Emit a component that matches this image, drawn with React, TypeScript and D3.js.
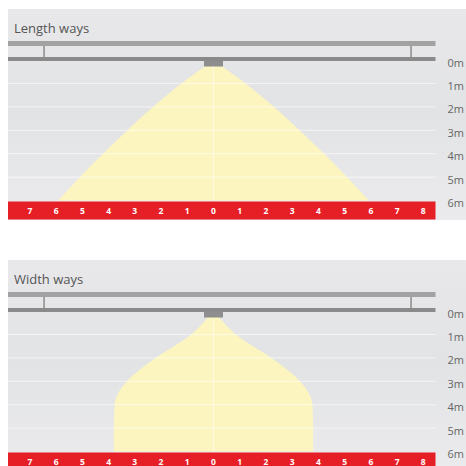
import React from "react";
import * as d3 from "d3";

// ---- data ----
const groundTicks = [-7, -6, -5, -4, -3, -2, -1, 0, 1, 2, 3, 4, 5, 6, 7, 8];
const depthTicks = [0, 1, 2, 3, 4, 5, 6];
const panelTitles = ["Length ways", "Width ways"];

// beam half-width (m) at a given depth below the luminaire (m)
const lengthDepth = [0.26, 1, 2, 3, 4, 5, 6];
const lengthHalf = [0.3, 1.22, 2.3, 3.28, 4.22, 5.1, 5.92];

const widthDepth = [0.26, 1, 2, 3, 3.5, 4, 5, 6];
const widthHalf = [0.2, 0.85, 2.2, 3.3, 3.63, 3.77, 3.8, 3.8];

const beams = [
  { depth: lengthDepth, half: lengthHalf },
  { depth: widthDepth, half: widthHalf },
];

const panelOffsets = [0, 251];

const x = d3.scaleLinear().domain([-7, 8]).range([29.9, 423.3]);
const y = d3.scaleLinear().domain([0, 6]).range([60, 200.6]);

const FONT = "'Open Sans', 'DejaVu Sans', sans-serif";

function Panel({ idx }: { idx: number }) {
  const beam = beams[idx];
  const pts = beam.depth.map((d, i) => ({ d, w: beam.half[i] }));
  const area = d3
    .area<{ d: number; w: number }>()
    .y((p) => y(p.d))
    .x0((p) => x(-p.w))
    .x1((p) => x(p.w))
    .curve(d3.curveMonotoneY);
  const gid = `bg${idx}`;
  return (
    <g transform={`translate(0,${panelOffsets[idx]})`}>
      <defs>
        <linearGradient id={gid} x1="0" y1="0" x2="0" y2="1">
          <stop offset="0" stopColor="#e8e8ea" />
          <stop offset="0.5" stopColor="#e2e3e5" />
          <stop offset="1" stopColor="#ebebed" />
        </linearGradient>
      </defs>
      <rect x={8} y={9} width={458} height={211} fill={`url(#${gid})`} />
      <text x={14} y={33} fontFamily={FONT} fontSize={13} fill="#555">
        {panelTitles[idx]}
      </text>
      {/* beam */}
      <path d={area(pts) || ""} fill="#fcf5bf" />
      {/* grid lines */}
      {depthTicks.slice(1, 6).map((t) => (
        <line key={t} x1={8} x2={436} y1={y(t)} y2={y(t)} stroke="#fff" strokeOpacity={0.6} strokeWidth={1} />
      ))}
      <line x1={x(0)} x2={x(0)} y1={66} y2={y(6)} stroke="#fff" strokeOpacity={0.6} strokeWidth={1} />
      {/* rails */}
      <rect x={8} y={41} width={427.5} height={5} fill="#a2a2a2" />
      <rect x={43.3} y={46} width={1.5} height={11} fill="#8c8c8c" />
      <rect x={410.3} y={46} width={1.5} height={11} fill="#8c8c8c" />
      <rect x={8} y={57} width={427.5} height={4} fill="#8a8a8a" />
      <rect x={204} y={61} width={19} height={5.5} fill="#8e8e8e" />
      {/* depth labels */}
      {depthTicks.map((t) => (
        <text key={t} x={447.5} y={y(t) + 2} dominantBaseline="central" fontFamily={FONT} fontSize={11} fill="#666">
          {`${t}m`}
        </text>
      ))}
      {/* ground bar */}
      <rect x={8} y={201.5} width={427.5} height={18} fill="#e61e26" />
      {groundTicks.map((t, i) => (
        <text
          key={i}
          x={x(t)}
          y={210.2}
          textAnchor="middle"
          dominantBaseline="central"
          fontFamily={FONT}
          fontWeight="bold"
          fontSize={8.5}
          fill="#fff"
        >
          {Math.abs(t)}
        </text>
      ))}
    </g>
  );
}

export default function App() {
  return (
    <svg
      width={466}
      height={466}
      style={{ position: "absolute", left: 0, top: 0, background: "#fff" }}
    >
      <Panel idx={0} />
      <Panel idx={1} />
    </svg>
  );
}
